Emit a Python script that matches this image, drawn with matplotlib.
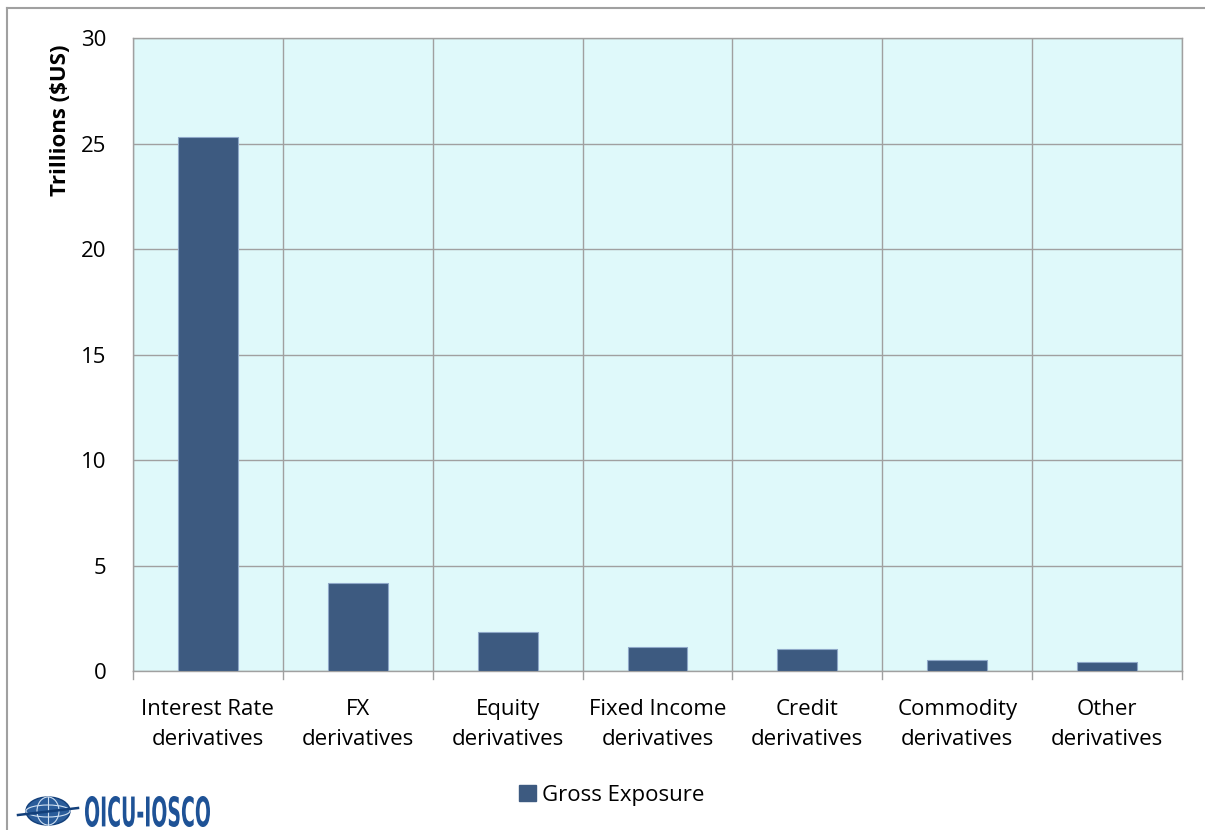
import matplotlib
matplotlib.use("Agg")
import matplotlib.pyplot as plt
from matplotlib.patches import Ellipse, PathPatch
from matplotlib.lines import Line2D
from matplotlib.textpath import TextPath
from matplotlib.font_manager import FontProperties
from matplotlib.transforms import Affine2D

categories = ["Interest Rate\nderivatives", "FX\nderivatives", "Equity\nderivatives",
              "Fixed Income\nderivatives", "Credit\nderivatives", "Commodity\nderivatives",
              "Other\nderivatives"]
gross_exposure = [25.3, 4.16, 1.86, 1.12, 1.03, 0.51, 0.43]
y_ticks = [0, 5, 10, 15, 20, 25, 30]

BAR = "#3D5A80"
BG = "#DFF9FA"
GRID = "#A0A0A0"
FS = 16

plt.rcParams["font.family"] = ["Open Sans", "DejaVu Sans"]

W, H = 1205, 830
fig = plt.figure(figsize=(W / 100, H / 100), dpi=100)
ax = fig.add_axes([133 / W, 1 - 671 / H, (1182 - 133) / W, (671 - 38) / H])
ax.set_facecolor(BG)

x = list(range(len(categories)))
ax.bar(x, gross_exposure, width=0.4, color=BAR, edgecolor="#8FA8C8", linewidth=0.8,
       zorder=3, label="Gross Exposure")

ax.set_xlim(-0.5, len(categories) - 0.5)
ax.set_ylim(0, 30)
ax.set_yticks(y_ticks)
ax.set_yticklabels([str(t) for t in y_ticks], fontsize=FS)
ax.set_xticks(x)
ax.set_xticklabels(categories, fontsize=FS, linespacing=1.6)
ax.tick_params(axis="x", length=0, pad=20)
ax.tick_params(axis="y", length=0, pad=19)

# vertical category separators with short ticks below the axis, horizontal gridlines
for b in [i + 0.5 for i in range(-1, len(categories))]:
    ax.axvline(b, color=GRID, linewidth=1.0, zorder=1)
    ax.plot([b, b], [0, -0.36], color=GRID, linewidth=1.0, clip_on=False, zorder=1)
ax.yaxis.grid(True, color=GRID, linewidth=1.0, zorder=1)
ax.set_axisbelow(True)
for s in ax.spines.values():
    s.set_color(GRID)
    s.set_linewidth(1.0)

ax.set_ylabel("Trillions ($US)", fontsize=FS, fontweight="bold")
ax.yaxis.set_label_coords((71 - 133) / (1182 - 133), (671 - 120) / (671 - 38))

fig.legend(handles=[plt.Rectangle((0, 0), 1, 1, color=BAR)], labels=["Gross Exposure"],
           loc="center", bbox_to_anchor=(612 / W, 1 - 795 / H), frameon=False,
           fontsize=FS, handlelength=0.75, handleheight=0.75, handletextpad=0.3)

# outer frame lines
fig.add_artist(Line2D([7 / W, 1], [1 - 8 / H, 1 - 8 / H], color="#A0A0A0", linewidth=1.5))
fig.add_artist(Line2D([7 / W, 7 / W], [0, 1 - 8 / H], color="#A0A0A0", linewidth=1.5))

# organisation mark: globe
gx, gy = 48 / W, 1 - 811 / H
fig.patches.append(Ellipse((gx, gy), 44 / W, 28 / H, transform=fig.transFigure,
                           facecolor="#2A5C9A", edgecolor="#123F7A", linewidth=1.0))
fig.patches.append(Ellipse((gx, gy), 22 / W, 28 / H, transform=fig.transFigure,
                           facecolor="none", edgecolor="#CFE0F2", linewidth=0.8))
fig.patches.append(Ellipse((gx, gy), 44 / W, 12 / H, transform=fig.transFigure,
                           facecolor="none", edgecolor="#CFE0F2", linewidth=0.8))
fig.add_artist(Line2D([gx, gx], [gy - 14 / H, gy + 14 / H], color="#CFE0F2", linewidth=0.8))
fig.add_artist(Line2D([gx - 30 / W, gx + 30 / W], [gy - 4 / H, gy + 3 / H],
                      color="#123F7A", linewidth=1.8))

# organisation mark: condensed wordmark, scaled into a 125 x 31 px box
tp = TextPath((0, 0), "OICU-IOSCO", size=10,
              prop=FontProperties(family="DejaVu Sans", weight="bold"))
bb = tp.get_extents()
sx = 125 / bb.width
sy = 31 / bb.height
tr = (Affine2D().translate(-bb.x0, -bb.y0).scale(sx / W, sy / H)
      .translate(85 / W, 1 - 827 / H) + fig.transFigure)
fig.patches.append(PathPatch(tp, transform=tr, facecolor="#1E5296", edgecolor="none"))

fig.savefig("out.png", dpi=100, facecolor="white")
